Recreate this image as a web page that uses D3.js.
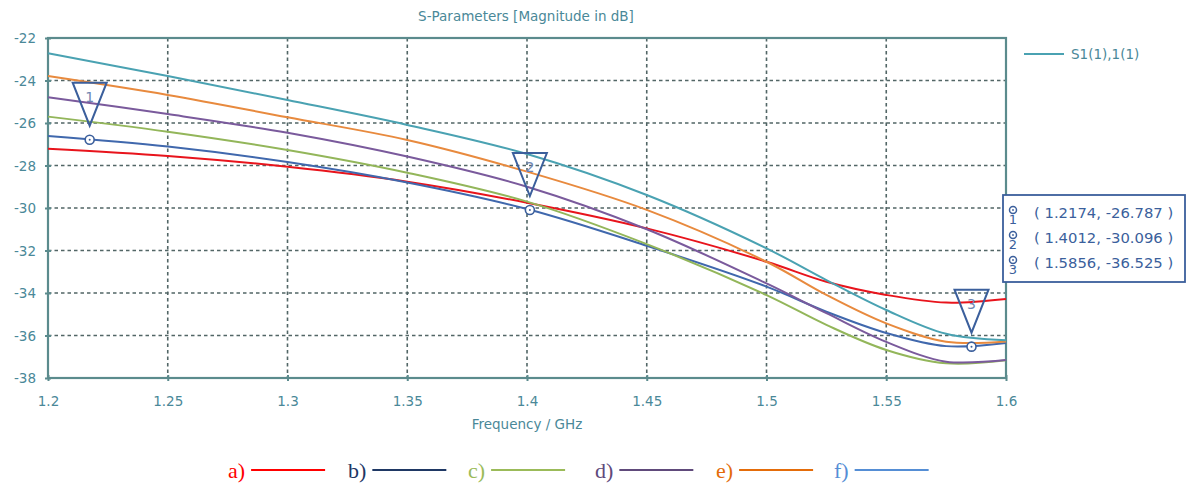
<!DOCTYPE html>
<html><head><meta charset="utf-8">
<script src="https://cdn.jsdelivr.net/npm/d3@7"></script>
<style>
html,body{margin:0;padding:0;background:#fff;}
svg{display:block;}
</style></head>
<body>
<svg id="chart" width="1187" height="488"></svg>
<script>
// ---- data ----
const freq = [1.2, 1.25, 1.3, 1.35, 1.4, 1.45, 1.5, 1.525, 1.55, 1.575, 1.6];
const seriesA = [-27.21, -27.55, -28.06, -28.76, -29.75, -30.96, -32.53, -33.47, -34.09, -34.45, -34.28];
const seriesB = [-26.61, -27.11, -27.84, -28.80, -30.05, -31.78, -33.70, -34.88, -35.88, -36.50, -36.35];
const seriesC = [-25.70, -26.41, -27.27, -28.34, -29.70, -31.70, -34.10, -35.50, -36.68, -37.31, -37.17];
const seriesD = [-24.79, -25.58, -26.46, -27.58, -29.00, -31.00, -33.55, -34.95, -36.30, -37.23, -37.15];
const seriesE = [-23.79, -24.68, -25.73, -26.80, -28.29, -30.09, -32.53, -34.09, -35.43, -36.29, -36.28];
const seriesF = [-22.72, -23.79, -24.92, -26.09, -27.46, -29.39, -31.90, -33.39, -34.80, -35.92, -36.22];
const seriesList = [seriesA, seriesB, seriesC, seriesD, seriesE, seriesF];
const seriesColors = ["#e8141c", "#4068ad", "#93b65a", "#7a5a9c", "#e88a3e", "#4aa2b2"];
const legendLabels = ["a)", "b)", "c)", "d)", "e)", "f)"];
const legendColors = ["#ff0000", "#1f3864", "#9bbb59", "#604a7b", "#e46c0a", "#558ed5"];
const xTicks = [1.2, 1.25, 1.3, 1.35, 1.4, 1.45, 1.5, 1.55, 1.6];
const yTicks = [-22, -24, -26, -28, -30, -32, -34, -36, -38];
const markerIds = ["1", "2", "3"];
const markerX = [1.2174, 1.4012, 1.5856];
const markerY = [-26.787, -30.096, -36.525];

// ---- layout ----
const svg = d3.select("#chart");
const L = 48, R = 1006, T = 38, B = 378;
const x = d3.scaleLinear().domain([1.2, 1.6]).range([L, R]);
const y = d3.scaleLinear().domain([-38, -22]).range([B, T]);
const axisCol = "#5b8b8d", textCol = "#4a8898", gridCol = "#526666", mkCol = "#3b5f9c";
const font = "DejaVu Sans, Verdana, sans-serif";

// grid
const g = svg.append("g");
g.selectAll(".vg").data(xTicks.slice(1, -1)).enter().append("line")
  .attr("x1", d => x(d)).attr("x2", d => x(d)).attr("y1", T).attr("y2", B)
  .attr("stroke", gridCol).attr("stroke-width", 1.6).attr("stroke-dasharray", "3.5,3");
g.selectAll(".hg").data(yTicks.slice(1, -1)).enter().append("line")
  .attr("y1", d => y(d)).attr("y2", d => y(d)).attr("x1", L).attr("x2", R)
  .attr("stroke", gridCol).attr("stroke-width", 1.6).attr("stroke-dasharray", "3.5,3");

// axes via d3
const xAxis = d3.axisBottom(x).tickValues(xTicks).tickSize(4).tickFormat(d => d3.format("")(+d.toFixed(2)));
const yAxis = d3.axisLeft(y).tickValues(yTicks).tickSize(4).tickFormat(d => d);
const xa = svg.append("g").attr("transform", `translate(0,${B})`).call(xAxis);
const ya = svg.append("g").attr("transform", `translate(${L},0)`).call(yAxis);
[xa, ya].forEach(a => {
  a.select(".domain").remove();
  a.selectAll("line").attr("stroke", axisCol).attr("stroke-width", 2);
  a.selectAll("text").attr("fill", textCol).style("font-family", font).style("font-size", "13.5px");
});
xa.selectAll(".tick line").attr("y1", -3).attr("y2", 3);
xa.selectAll("text").attr("dy", "0").attr("y", 28);
ya.selectAll(".tick line").attr("x1", -3).attr("x2", 3);
ya.selectAll("text").attr("x", -12).attr("dy", "0.35em");

// frame
svg.append("rect").attr("x", L).attr("y", T).attr("width", R - L).attr("height", B - T)
  .attr("fill", "none").attr("stroke", axisCol).attr("stroke-width", 2.2);

// curves
const line = d3.line().x((d, i) => x(freq[i])).y(d => y(d)).curve(d3.curveCatmullRom.alpha(0.5));
svg.append("g").selectAll("path").data(seriesList).enter().append("path")
  .attr("d", d => line(d)).attr("fill", "none")
  .attr("stroke", (d, i) => seriesColors[i]).attr("stroke-width", 2);

// markers
const mk = svg.append("g");
markerIds.forEach((id, i) => {
  const cx = x(markerX[i]), cy = y(markerY[i]);
  mk.append("path")
    .attr("d", `M${cx - 17},${cy - 57} L${cx + 17},${cy - 57} L${cx},${cy - 14} Z`)
    .attr("fill", "none").attr("stroke", mkCol).attr("stroke-width", 2);
  mk.append("text").attr("x", cx).attr("y", cy - 38).attr("text-anchor", "middle")
    .attr("fill", "#6f86b3").style("font-family", font).style("font-size", "14px").text(id);
  mk.append("circle").attr("cx", cx).attr("cy", cy).attr("r", 4.5)
    .attr("fill", "#fff").attr("stroke", mkCol).attr("stroke-width", 1.6);
  mk.append("circle").attr("cx", cx).attr("cy", cy).attr("r", 1).attr("fill", mkCol);
});

// marker table
const tb = svg.append("g");
tb.append("rect").attr("x", 1003).attr("y", 195).attr("width", 182).attr("height", 87)
  .attr("fill", "#fff").attr("stroke", mkCol).attr("stroke-width", 1.8);
markerIds.forEach((id, i) => {
  const ry = 213 + i * 25;
  tb.append("circle").attr("cx", 1013).attr("cy", ry - 3).attr("r", 3.5)
    .attr("fill", "none").attr("stroke", mkCol).attr("stroke-width", 1.5);
  tb.append("circle").attr("cx", 1013).attr("cy", ry - 3).attr("r", 0.9).attr("fill", mkCol);
  tb.append("text").attr("x", 1013).attr("y", ry + 11).attr("text-anchor", "middle")
    .attr("fill", mkCol).style("font-family", font).style("font-size", "13px").text(id);
  tb.append("text").attr("x", 1034).attr("y", ry + 5)
    .attr("fill", mkCol).style("font-family", font).style("font-size", "14.8px")
    .text(`( ${markerX[i].toFixed(4)}, ${markerY[i].toFixed(3)} )`);
});

// title and axis label
svg.append("text").attr("x", 526).attr("y", 21).attr("text-anchor", "middle")
  .attr("fill", textCol).style("font-family", font).style("font-size", "13.5px")
  .text("S-Parameters [Magnitude in dB]");
svg.append("text").attr("x", 527).attr("y", 429).attr("text-anchor", "middle")
  .attr("fill", textCol).style("font-family", font).style("font-size", "13.5px")
  .text("Frequency / GHz");

// top-right legend
svg.append("line").attr("x1", 1024).attr("x2", 1064).attr("y1", 54).attr("y2", 54)
  .attr("stroke", seriesColors[5]).attr("stroke-width", 2);
svg.append("text").attr("x", 1071).attr("y", 59).attr("fill", textCol)
  .style("font-family", font).style("font-size", "13.5px").text("S1(1),1(1)");

// bottom legend
const lg = svg.append("g");
const lgX = [228, 348, 468, 595, 716, 834];
legendLabels.forEach((lab, i) => {
  const t = lg.append("text").attr("x", lgX[i]).attr("y", 478)
    .attr("fill", legendColors[i]).style("font-family", "Liberation Serif, Times New Roman, serif")
    .style("font-size", "22px").text(lab);
  const w = t.node().getComputedTextLength();
  lg.append("line").attr("x1", lgX[i] + w + 6).attr("x2", lgX[i] + w + 80)
    .attr("y1", 470).attr("y2", 470).attr("stroke", legendColors[i]).attr("stroke-width", 2);
});
</script>
</body></html>
